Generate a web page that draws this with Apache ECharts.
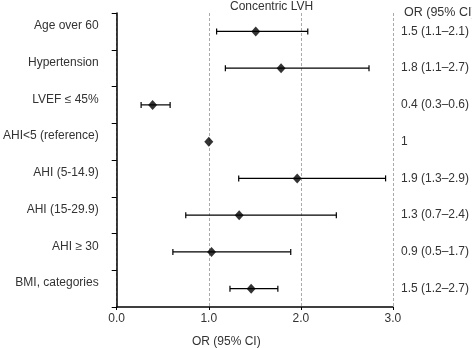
<!DOCTYPE html>
<html>
<head>
<meta charset="utf-8">
<script src="https://cdn.jsdelivr.net/npm/echarts@6/dist/echarts.min.js"></script>
<style>html,body{margin:0;padding:0;background:#fff}#c{width:472px;height:348px}</style>
</head>
<body>
<div id="c"></div>
<script>
var categories = ['Age over 60', 'Hypertension', 'LVEF \u2264 45%', 'AHI<5 (reference)', 'AHI (5-14.9)', 'AHI (15-29.9)', 'AHI \u2265 30', 'BMI, categories'];
var orValues = [1.51, 1.785, 0.39, 1.0, 1.96, 1.33, 1.03, 1.46];
var ciLow = [1.085, 1.18, 0.265, null, 1.325, 0.75, 0.61, 1.23];
var ciHigh = [2.075, 2.74, 0.58, null, 2.92, 2.385, 1.89, 1.75];
var orLabels = ['1.5 (1.1\u20132.1)', '1.8 (1.1\u20132.7)', '0.4 (0.3\u20130.6)', '1', '1.9 (1.3\u20132.9)', '1.3 (0.7\u20132.4)', '0.9 (0.5\u20131.7)', '1.5 (1.2\u20132.7)'];
var xTicks = [0, 1, 2, 3];

var FONT = '"Liberation Sans", Arial, sans-serif';
var TXT = '#333';

var ciData = [];
for (var i = 0; i < categories.length; i++) {
  if (ciLow[i] != null) ciData.push([ciLow[i], ciHigh[i], i]);
}
var pointData = orValues.map(function (v, i) { return [v, i]; });

var chart = echarts.init(document.getElementById('c'), null, {renderer: 'canvas'});
chart.setOption({
  animation: false,
  textStyle: {fontFamily: FONT},
  grid: {left: 115, right: 74, top: 13, bottom: 41, containLabel: false},
  xAxis: {
    type: 'value', min: xTicks[0], max: xTicks[xTicks.length - 1], interval: 1,
    axisLine: {show: true, onZero: false, lineStyle: {color: '#000', width: 1.5}},
    axisTick: {show: true, length: 3, lineStyle: {color: '#000'}},
    axisLabel: {color: TXT, fontSize: 12, fontFamily: FONT, margin: 6, formatter: function (v) { return v.toFixed(1); }},
    splitLine: {show: true, lineStyle: {color: '#aaa', type: [3, 2], width: 1}}
  },
  yAxis: [{
    type: 'category', inverse: true, data: categories,
    axisLine: {show: true, lineStyle: {color: '#000', width: 1.5}},
    axisTick: {show: true, length: 5, lineStyle: {color: '#000'}},
    axisLabel: {color: TXT, fontSize: 12, fontFamily: FONT, margin: 18, verticalAlign: 'bottom', lineHeight: 11},
    splitLine: {show: false}
  }, {
    type: 'category', inverse: true, data: orLabels, position: 'right',
    axisLine: {show: false}, axisTick: {show: false},
    axisLabel: {color: TXT, fontSize: 12, fontFamily: FONT, margin: 8, align: 'left'},
    splitLine: {show: false}
  }],
  graphic: [
    {type: 'text', left: 230, top: 1, style: {text: 'Concentric LVH', fill: TXT, font: '12px ' + FONT}},
    {type: 'text', left: 404, top: 6, style: {text: 'OR (95% CI)', fill: TXT, font: '12.5px ' + FONT}},
    {type: 'text', left: 192, top: 336, style: {text: 'OR (95% CI)', fill: TXT, font: '12px ' + FONT}}
  ],
  series: [{
    type: 'custom',
    xAxisIndex: 0, yAxisIndex: 0,
    data: ciData,
    encode: {x: [0, 1], y: 2},
    renderItem: function (params, api) {
      var y = api.value(2);
      var p1 = api.coord([api.value(0), y]);
      var p2 = api.coord([api.value(1), y]);
      var h = 3;
      var st = {stroke: '#000', lineWidth: 1.2};
      return {type: 'group', children: [
        {type: 'line', shape: {x1: p1[0], y1: p1[1], x2: p2[0], y2: p2[1]}, style: st},
        {type: 'line', shape: {x1: p1[0], y1: p1[1] - h, x2: p1[0], y2: p1[1] + h}, style: st},
        {type: 'line', shape: {x1: p2[0], y1: p2[1] - h, x2: p2[0], y2: p2[1] + h}, style: st}
      ]};
    },
    z: 3
  }, {
    type: 'scatter',
    xAxisIndex: 0, yAxisIndex: 0,
    data: pointData,
    symbol: 'diamond',
    symbolSize: [9, 10],
    itemStyle: {color: '#000'},
    z: 4
  }]
});
</script>
</body>
</html>
